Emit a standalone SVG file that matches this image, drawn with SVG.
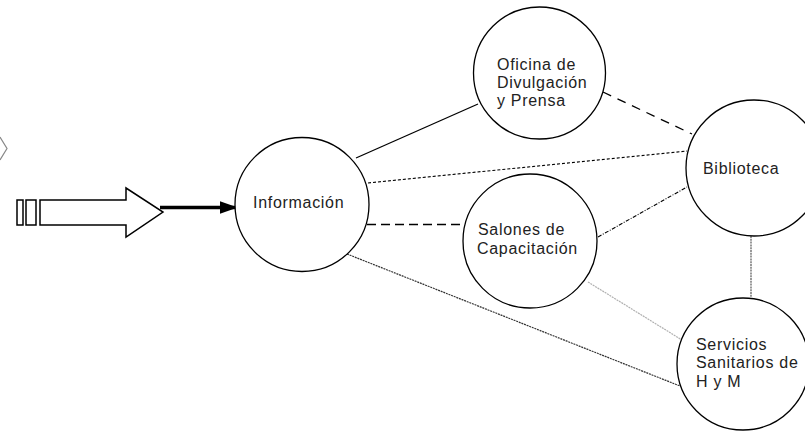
<svg xmlns="http://www.w3.org/2000/svg" width="805" height="434" viewBox="0 0 805 434">
<style>
.node circle{fill:#fff;stroke:#000;stroke-width:1.3}
.node text{font-family:"Liberation Sans",Arial,sans-serif;font-size:16px;letter-spacing:0.7px;fill:#222}
</style>
<defs>
<marker id="ah" markerWidth="5" markerHeight="3.6" refX="4.6" refY="1.8" orient="auto" markerUnits="strokeWidth">
<path d="M0,0 L5,1.8 L0,3.6 Z" fill="#000"/>
</marker>
</defs>
<rect width="805" height="434" fill="#fff"/>
<g id="edge-chevron"><polyline points="0,137 7,148.5 0,160" fill="none" stroke="#888" stroke-width="1.2"/></g>
<g id="connectors" fill="none">
<line x1="356" y1="158" x2="478" y2="104" stroke="#000" stroke-width="1.3"/>
<line x1="603" y1="92" x2="692" y2="134" stroke="#000" stroke-width="1.3" stroke-dasharray="9,7"/>
<line x1="368" y1="183" x2="687" y2="151" stroke="#000" stroke-dasharray="3,2" stroke-width="1.2"/>
<line x1="367" y1="224.5" x2="462" y2="224.5" stroke="#000" stroke-width="1.3" stroke-dasharray="9,5"/>
<line x1="598" y1="237" x2="687" y2="187" stroke="#000" stroke-dasharray="4,1.5,1,1.5" stroke-width="1.1"/>
<line x1="347" y1="254" x2="680" y2="386" stroke="#333" stroke-dasharray="2,0.8" stroke-width="1.2"/>
<line x1="588" y1="282" x2="682" y2="340" stroke="#b0b0b0" stroke-dasharray="2,0.8" stroke-width="1.2"/>
<line x1="751" y1="236" x2="751" y2="297" stroke="#555" stroke-dasharray="2,0.8" stroke-width="1.2"/>
<line x1="160" y1="207.5" x2="236" y2="207.5" stroke="#000" stroke-width="3.5" marker-end="url(#ah)"/>
</g>
<g id="input-arrow" fill="#fff" stroke="#000" stroke-width="1.5">
<rect x="17" y="200" width="6" height="25"/>
<rect x="26" y="200" width="10" height="25"/>
<polygon points="40,200 126,200 126,188 163,212 126,237 126,225 40,225"/>
</g>
<g id="informacion" class="node"><circle cx="302" cy="204.5" r="67"/><text x="253" y="208">Información</text></g>
<g id="oficina" class="node"><circle cx="539.5" cy="73" r="66"/><text x="497" y="70">Oficina de</text><text x="497" y="88">Divulgación</text><text x="497" y="106">y Prensa</text></g>
<g id="biblioteca" class="node"><circle cx="754" cy="168" r="68"/><text x="703" y="174">Biblioteca</text></g>
<g id="salones" class="node"><circle cx="530" cy="241" r="67"/><text x="478" y="235">Salones de</text><text x="477" y="254">Capacitación</text></g>
<g id="servicios" class="node"><circle cx="743" cy="364" r="66"/><text x="696" y="350">Servicios</text><text x="696" y="368">Sanitarios de</text><text x="696" y="387">H y M</text></g>
</svg>
